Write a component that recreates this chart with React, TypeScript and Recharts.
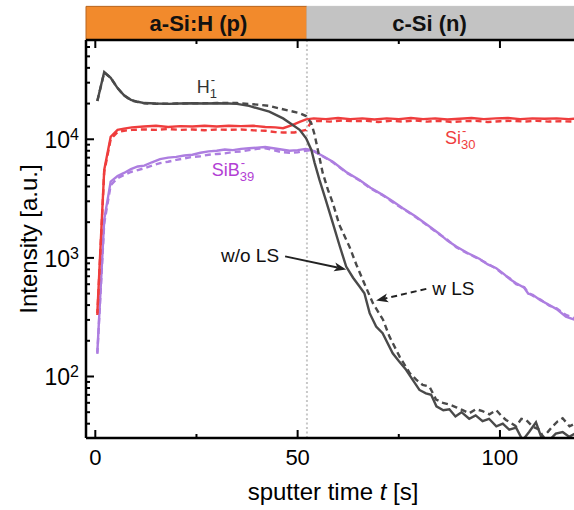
import React from 'react';
import { LineChart, Line, XAxis, YAxis, ReferenceLine, ReferenceArea, ReferenceDot } from 'recharts';

// ---------- data ----------
const h1SolidT = [0.5, 2.2, 3.8, 5.5, 7.1, 8.8, 10.5, 12.1, 15, 18, 21, 24, 27, 30, 33, 35, 38, 43, 46.4, 48.8, 50.5, 52.1, 53.4, 54.2, 55.4, 56.7, 58.7, 60.3, 62.0, 63.7, 65.3, 66.5, 67.8, 69.4, 71.0, 73.5, 75.0, 76.8, 78.4, 80.1, 81.7, 83.0, 84.3, 86.0, 87.5, 89.0, 90.5, 92.4, 94.0, 95.7, 97.3, 99.1, 100.7, 102.3, 104.0, 105.6, 107.2, 108.9, 110.5, 112.2, 113.8, 115.5, 117.1, 118.5];
const h1SolidV = [21000, 36900, 33000, 27000, 23500, 21500, 20700, 20200, 20000, 19900, 20000, 20100, 20000, 20100, 20000, 19900, 19100, 17100, 15000, 13200, 12000, 10200, 8130, 6330, 4540, 3280, 1960, 1290, 845, 680, 573, 504, 342, 264, 232, 157, 135, 114, 94, 77, 72, 70, 56, 52, 53, 46, 50, 44, 47, 42, 44, 38, 40, 35.6, 37, 29, 34, 41, 29, 29, 33, 34, 31, 33];

const h1DashT = [0.5, 2.2, 3.8, 5.5, 7.1, 8.8, 10.5, 12.1, 15, 20, 25, 30, 35, 38, 40, 43.1, 45.5, 48, 50.5, 52.1, 53.4, 54.2, 55.0, 56.2, 57.5, 58.7, 60.3, 62.8, 64.5, 66.1, 68.6, 71.1, 72.7, 75.2, 77.7, 79.3, 80.9, 82.6, 84.2, 85.9, 87.5, 89.2, 90.8, 92.4, 94.1, 95.7, 97.4, 99.1, 100.5, 101.5, 103, 104, 105.3, 106.5, 108, 109.8, 110.6, 111.8, 113, 114.3, 115.5, 117.2, 118.5];
const h1DashV = [21000, 36500, 33000, 27000, 23400, 21300, 20600, 20100, 19900, 20000, 20100, 20200, 20200, 19800, 19600, 19100, 18200, 17400, 16600, 15700, 13600, 10900, 8130, 5200, 3740, 2900, 1900, 1245, 880, 653, 415, 301, 217, 147, 107, 94, 85, 82, 64, 60, 58, 55, 52, 49, 53, 51, 48, 52, 46, 43, 40, 38, 44, 43, 38, 35.6, 31, 34, 38, 42, 44.5, 38, 40];

const siSolidT = [0.5, 2.2, 3.8, 5.5, 7.1, 9, 12, 15, 18, 21, 24, 27, 30, 33, 36, 39, 42, 44.5, 46.4, 48.8, 50.5, 52.1, 54, 57, 60, 63, 66, 69, 72, 75, 78, 81, 84, 87, 90, 93, 96, 99, 102, 105, 108, 111, 114, 117, 118.5];
const siSolidV = [342, 5510, 10500, 12000, 12300, 12600, 12800, 13000, 12700, 12900, 12800, 13000, 12800, 13000, 12900, 13000, 12700, 12600, 12400, 13200, 14000, 14700, 15000, 14800, 15100, 14800, 15000, 14700, 15000, 14800, 15100, 14800, 15000, 14700, 14900, 15100, 14800, 15000, 15100, 14800, 15000, 14900, 15000, 14800, 14900];

const siDashT = [0.5, 2.2, 3.8, 5.5, 7.1, 9, 12, 15, 18, 21, 24, 27, 30, 33, 36, 39, 42, 44.5, 46.4, 49.2, 52.1, 53.4, 55, 58, 61, 64, 67, 70, 73, 76, 79, 82, 85, 88, 91, 94, 97, 100, 103, 106, 109, 112, 115, 118.5];
const siDashV = [330, 5300, 10000, 11500, 11800, 12000, 12100, 12000, 12200, 12000, 12100, 11900, 12100, 12000, 12100, 11900, 11800, 11500, 11400, 11400, 12000, 14000, 14300, 14100, 14400, 14200, 14300, 14000, 14300, 14100, 14400, 14100, 14300, 14000, 14200, 14300, 14000, 14200, 14300, 14100, 14300, 14100, 14200, 14100];

const sibSolidT = [0.5, 2.2, 3.8, 5.5, 7.1, 8.8, 10.5, 12.1, 14, 16, 18, 20, 22, 24, 26, 28, 30, 32, 34, 36, 38, 40, 42, 44, 46, 48, 50, 52, 53.4, 54.2, 56, 58.7, 62, 65.3, 68, 71, 73.5, 76, 79, 82, 85, 87, 89.2, 92, 95, 97, 99.1, 101, 102.5, 104, 106, 107, 108.1, 110, 112.2, 114, 116.3, 118.5];
const sibSolidV = [159, 2100, 4400, 4900, 5200, 5600, 5900, 6000, 6400, 6800, 7000, 7100, 7300, 7400, 7700, 7900, 8000, 8200, 8100, 8300, 8400, 8500, 8600, 8400, 8200, 8000, 8100, 8300, 8100, 7860, 7300, 6470, 5300, 4540, 3900, 3400, 3000, 2620, 2250, 1900, 1600, 1400, 1245, 1100, 980, 880, 818, 730, 660, 612, 560, 500, 488, 440, 401, 370, 320, 301];

const sibDashT = [0.5, 2.2, 3.8, 5.5, 7.1, 8.8, 10.5, 12.1, 14, 16, 18, 20, 22, 24, 26, 28, 30, 32, 34, 36, 38, 40, 42, 44, 46, 48, 50, 52, 53.4, 54.2, 56, 58.7, 62, 65.3, 68, 71, 73.5, 76, 79, 82, 85, 87, 89.2, 92, 95, 97, 99.1, 101, 102.5, 104, 106, 107, 108.1, 110, 112.2, 114, 116.3, 118.5];
const sibDashV = [155, 1950, 4100, 4700, 5000, 5300, 5500, 5700, 6000, 6300, 6470, 6700, 6900, 7100, 7200, 7400, 7520, 7600, 7800, 7900, 8100, 8300, 8400, 8100, 7800, 7700, 7750, 8000, 8120, 7900, 7250, 6400, 5250, 4500, 3850, 3380, 2950, 2600, 2230, 1880, 1580, 1420, 1230, 1090, 970, 890, 810, 720, 670, 600, 565, 510, 480, 445, 395, 375, 330, 310];

const xDomain = [-2.3, 118.3];
const yDomain = [30.3, 68700];
const bandTop = 132000;
const interfaceT = 52.3;
const xTicks = [0, 25, 50, 75, 100];
const xMajor = [0, 50, 100];
const yTicks = [40, 50, 60, 70, 80, 90, 100, 200, 300, 400, 500, 600, 700, 800, 900, 1000, 2000, 3000, 4000, 5000, 6000, 7000, 8000, 9000, 10000, 20000, 30000, 40000, 50000, 60000];
const yMajor = [100, 1000, 10000];
const bandLabels = ['a-Si:H (p)', 'c-Si (n)'];
const woArrow = [{ x: 46.9, y: 1030 }, { x: 62.0, y: 800 }];
const wArrow = [{ x: 81.8, y: 548 }, { x: 69.4, y: 437 }];
const h1LabelPos = { t: 25.1, v: 24500 };
const siLabelPos = { t: 86.4, v: 9040 };
const sibLabelPos = { t: 28.8, v: 4860 };

type P = { t: number; v: number };
const mk = (ts: number[], vs: number[]): P[] => ts.map((t, i) => ({ t, v: vs[i] }));
const h1Solid = mk(h1SolidT, h1SolidV);
const h1Dash = mk(h1DashT, h1DashV);
const siSolid = mk(siSolidT, siSolidV);
const siDash = mk(siDashT, siDashV);
const sibSolid = mk(sibSolidT, sibSolidV);
const sibDash = mk(sibDashT, sibDashV);

// ---------- styles ----------
const FONT = '"Liberation Sans", Arial, Helvetica, sans-serif';
const GRAY = '#4a4a4a';
const RED = '#ef3d3d';
const PURPLE = '#ad7ee0';
const PURPLE_TXT = '#b23fd4';
const LW = 2.4;

function YTick(props: any) {
  const { x, y, payload } = props;
  const v = payload.value;
  const major = yMajor.includes(v);
  const len = major ? 8 : 4;
  return (
    <g>
      <line x1={x} y1={y} x2={x + len} y2={y} stroke="#000" strokeWidth={2} />
      {major && (
        <text x={x - 7} y={y + 9} textAnchor="end" fontSize={23} fontFamily={FONT} fill="#000">
          10<tspan dy={-8} fontSize={16}>{Math.round(Math.log10(v))}</tspan>
        </text>
      )}
    </g>
  );
}

function XTickBottom(props: any) {
  const { x, y, payload } = props;
  const major = xMajor.includes(payload.value);
  return (
    <g>
      <line x1={x} y1={y} x2={x} y2={y - (major ? 8 : 4)} stroke="#000" strokeWidth={2} />
      {major && (
        <text x={x} y={y + 27} textAnchor="middle" fontSize={22} fontFamily={FONT} fill="#000">
          {payload.value}
        </text>
      )}
    </g>
  );
}

function XTickTop(props: any) {
  const { x, y, payload } = props;
  const major = xMajor.includes(payload.value);
  return <line x1={x} y1={y} x2={x} y2={y + (major ? 8 : 4)} stroke="#000" strokeWidth={2} />;
}

const bandLabel = (text: string, dx: number) => (props: any) => {
  const vb = props.viewBox;
  return (
    <text x={vb.x + vb.width / 2 + dx} y={vb.y + vb.height / 2 + 8} textAnchor="middle" fontWeight="bold" fontSize={22} fontFamily={FONT} fill="#111">
      {text}
    </text>
  );
};

const arrowShape = (label: string, dashed: boolean, textLeft: boolean) => (props: any) => {
  const { x1, y1, x2, y2 } = props;
  const ang = Math.atan2(y2 - y1, x2 - x1);
  const L = 12, W = 4.5;
  const bx = x2 - L * Math.cos(ang), by = y2 - L * Math.sin(ang);
  const px = -Math.sin(ang) * W, py = Math.cos(ang) * W;
  const nx = x2 - (L - 3) * Math.cos(ang), ny = y2 - (L - 3) * Math.sin(ang);
  return (
    <g>
      <line x1={x1} y1={y1} x2={nx} y2={ny} stroke="#222" strokeWidth={2} strokeDasharray={dashed ? '6 4' : undefined} />
      <polygon points={`${x2},${y2} ${bx + px},${by + py} ${nx},${ny} ${bx - px},${by - py}`} fill="#222" />
      <text x={textLeft ? x1 - 6 : x1 + 6} y={y1 + 6} textAnchor={textLeft ? 'end' : 'start'} fontSize={19} fontFamily={FONT} fill="#111">
        {label}
      </text>
    </g>
  );
};

const ionLabel = (main: string, sub: string, color: string, subDx: number) => (props: any) => {
  const vb = props.viewBox;
  const x = vb.x + vb.width / 2;
  const y = vb.y + vb.height / 2;
  return (
    <g fontFamily={FONT} fill={color}>
      <text x={x} y={y} fontSize={18}>{main}</text>
      <text x={x + subDx} y={y + 5} fontSize={13}>{sub}</text>
      <text x={x + subDx + 1} y={y - 9} fontSize={13}>-</text>
    </g>
  );
};

const xLabel = (props: any) => {
  const vb = props.viewBox;
  return (
    <text x={vb.x + vb.width / 2 + 3} y={vb.y + 62} textAnchor="middle" fontSize={24} fontFamily={FONT} fill="#000">
      sputter time <tspan fontStyle="italic">t</tspan> [s]
    </text>
  );
};

const yLabel = (props: any) => {
  const vb = props.viewBox;
  const cx = 28;
  const cy = vb.y + vb.height / 2;
  return (
    <text x={cx} y={cy} transform={`rotate(-90 ${cx} ${cy})`} textAnchor="middle" dominantBaseline="central" fontSize={24} fontFamily={FONT} fill="#000">
      Intensity [a.u.]
    </text>
  );
};

export default function App() {
  return (
    <div style={{ position: 'absolute', left: 0, top: 0, width: 574, height: 510, background: '#fff' }}>
      <LineChart width={574} height={510} margin={{ top: 0, right: 0, bottom: 0, left: 0 }}>
        <XAxis
          xAxisId="b"
          type="number"
          dataKey="t"
          domain={xDomain}
          allowDataOverflow
          ticks={xTicks}
          interval={0}
          height={72}
          tickSize={0}
          tickMargin={0}
          tickLine={false}
          tick={XTickBottom}
          axisLine={{ stroke: '#000', strokeWidth: 2.5 }}
          label={xLabel}
        />
        <XAxis
          xAxisId="top"
          orientation="top"
          type="number"
          dataKey="t"
          domain={xDomain}
          allowDataOverflow
          ticks={xTicks}
          interval={0}
          height={40}
          tickSize={0}
          tickMargin={0}
          tickLine={false}
          tick={XTickTop}
          axisLine={{ stroke: '#000', strokeWidth: 2.5 }}
        />
        <YAxis
          type="number"
          scale="log"
          domain={yDomain}
          allowDataOverflow
          ticks={yTicks}
          interval={0}
          width={86}
          tickSize={0}
          tickMargin={0}
          tickLine={false}
          tick={YTick}
          axisLine={{ stroke: '#000', strokeWidth: 2.5 }}
          label={yLabel}
        />
        <ReferenceArea xAxisId="b" x1={xDomain[0]} x2={interfaceT} y1={yDomain[1]} y2={bandTop} ifOverflow="visible"
          fill="#f28a2c" fillOpacity={1} stroke="#b8641e" strokeWidth={1} label={bandLabel(bandLabels[0], 2)} />
        <ReferenceArea xAxisId="b" x1={interfaceT} x2={xDomain[1]} y1={yDomain[1]} y2={bandTop} ifOverflow="visible"
          fill="#c3c3c3" fillOpacity={1} stroke="#c3c3c3" strokeWidth={1} label={bandLabel(bandLabels[1], -11)} />
        <ReferenceLine xAxisId="b" x={interfaceT} stroke="#c8c8c8" strokeWidth={2} strokeDasharray="2 2.5" />
        <Line xAxisId="b" data={sibDash} dataKey="v" type="linear" stroke={PURPLE} strokeWidth={LW} strokeDasharray="6 4" dot={false} isAnimationActive={false} />
        <Line xAxisId="b" data={sibSolid} dataKey="v" type="linear" stroke={PURPLE} strokeWidth={LW} dot={false} isAnimationActive={false} />
        <Line xAxisId="b" data={siDash} dataKey="v" type="linear" stroke={RED} strokeWidth={LW} strokeDasharray="6 4" dot={false} isAnimationActive={false} />
        <Line xAxisId="b" data={siSolid} dataKey="v" type="linear" stroke={RED} strokeWidth={LW} dot={false} isAnimationActive={false} />
        <Line xAxisId="b" data={h1Dash} dataKey="v" type="linear" stroke={GRAY} strokeWidth={LW} strokeDasharray="6 4" dot={false} isAnimationActive={false} />
        <Line xAxisId="b" data={h1Solid} dataKey="v" type="linear" stroke={GRAY} strokeWidth={LW} dot={false} isAnimationActive={false} />
        <ReferenceLine xAxisId="b" segment={woArrow} ifOverflow="visible" shape={arrowShape('w/o LS', false, true)} />
        <ReferenceLine xAxisId="b" segment={wArrow} ifOverflow="visible" shape={arrowShape('w LS', true, false)} />
        <ReferenceDot xAxisId="b" x={h1LabelPos.t} y={h1LabelPos.v} r={0} ifOverflow="visible" stroke="none" fill="none" label={ionLabel('H', '1', '#333', 13)} />
        <ReferenceDot xAxisId="b" x={siLabelPos.t} y={siLabelPos.v} r={0} ifOverflow="visible" stroke="none" fill="none" label={ionLabel('Si', '30', RED, 16)} />
        <ReferenceDot xAxisId="b" x={sibLabelPos.t} y={sibLabelPos.v} r={0} ifOverflow="visible" stroke="none" fill="none" label={ionLabel('SiB', '39', PURPLE_TXT, 28)} />
      </LineChart>
    </div>
  );
}
